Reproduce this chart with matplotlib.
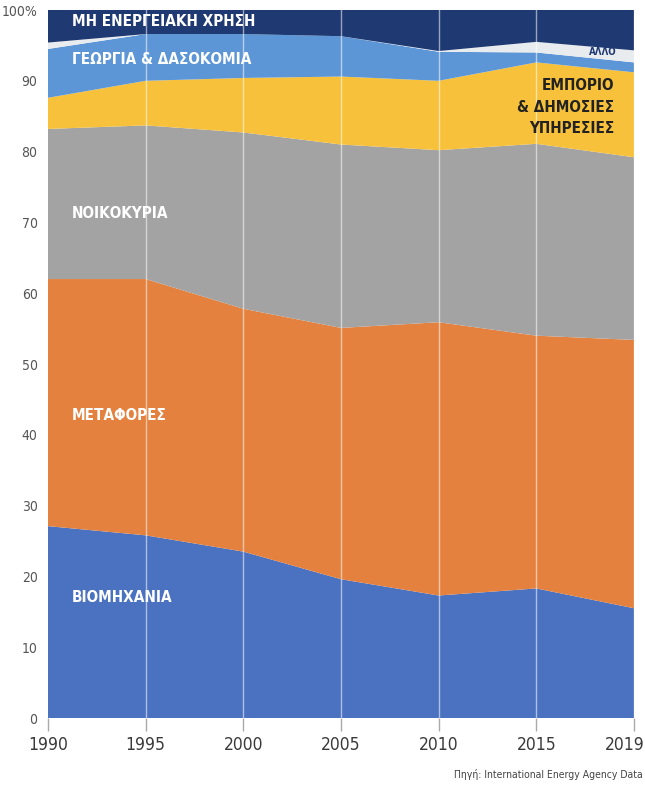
import matplotlib
matplotlib.use("Agg")
import matplotlib.pyplot as plt
import matplotlib.transforms as mtrans
import numpy as np

years = ["1990", "1995", "2000", "2005", "2010", "2015", "2019"]
industry = [27.1, 25.8, 23.5, 19.6, 17.3, 18.3, 15.5]
transport = [34.9, 36.2, 34.3, 35.5, 38.6, 35.7, 37.9]
households = [21.2, 21.7, 24.9, 25.9, 24.3, 27.1, 25.8]
commercial = [4.4, 6.3, 7.7, 9.6, 9.8, 11.5, 12.0]
agriculture = [6.9, 6.6, 6.2, 5.7, 4.1, 1.4, 1.4]
other = [0.9, 0.0, 0.0, 0.0, 0.1, 1.5, 1.7]
non_energy = [4.6, 3.4, 3.4, 3.7, 5.8, 4.5, 5.7]

y_ticks = [0, 10, 20, 30, 40, 50, 60, 70, 80, 90, 100]
y_labels = ["0", "10", "20", "30", "40", "50", "60", "70", "80", "90", "100%"]

colors = ["#4a72c0", "#e5813e", "#a3a3a3", "#f7c13b", "#5d96d6", "#e9ecef", "#1f3a72"]

cond = dict(family=["DejaVu Sans"], fontstretch="condensed")

fig = plt.figure(figsize=(6.45, 7.85), dpi=100)
ax = fig.add_axes([48/645, 1-718/785, (634-48)/645, (718-10)/785])

x = np.arange(len(years))
ax.stackplot(x, industry, transport, households, commercial, agriculture, other, non_energy,
             colors=colors, linewidth=0)

for xi in x[1:]:
    ax.axvline(xi, color="white", lw=1.0, alpha=0.55, zorder=3)

ax.set_xlim(0, len(years) - 1)
ax.set_ylim(0, 100)
for s in ax.spines.values():
    s.set_visible(False)

ax.set_xticks(x)
ax.set_xticklabels(years, fontsize=12.5, color="#3a3a3a", **cond)
ax.tick_params(axis="x", length=9, width=1, color="#aaaaaa", pad=4)
last = ax.get_xticklabels()[-1]
last.set_transform(last.get_transform() + mtrans.ScaledTranslation(-9/100, 0, fig.dpi_scale_trans))

ax.set_yticks(y_ticks)
ax.set_yticklabels(y_labels, fontsize=10, color="#555555", **cond)
ax.tick_params(axis="y", length=0, pad=7.5)

lab = dict(fontweight="bold", fontsize=11, transform=ax.transAxes, va="center", **cond)
def fx(px):
    return (px - 48) / (634 - 48)
def fy(py):
    return (718 - py) / (718 - 10)

ax.text(fx(72), fy(22), "ΜΗ ΕΝΕΡΓΕΙΑΚΗ ΧΡΗΣΗ", color="white", ha="left", **lab)
ax.text(fx(72), fy(60), "ΓΕΩΡΓΙΑ & ΔΑΣΟΚΟΜΙΑ", color="white", ha="left", **lab)
ax.text(fx(72), fy(213), "ΝΟΙΚΟΚΥΡΙΑ", color="white", ha="left", **lab)
ax.text(fx(72), fy(415), "ΜΕΤΑΦΟΡΕΣ", color="white", ha="left", **lab)
ax.text(fx(72), fy(598), "ΒΙΟΜΗΧΑΝΙΑ", color="white", ha="left", **lab)
ax.text(fx(614), fy(107), "ΕΜΠΟΡΙΟ\n& ΔΗΜΟΣΙΕΣ\nΥΠΗΡΕΣΙΕΣ", color="#222222", ha="right",
        linespacing=1.55, **lab)
ax.text(fx(617), fy(52), "ΑΛΛΟ", color="#1f3a72", ha="right", va="center",
        fontsize=7, fontweight="bold", transform=ax.transAxes, **cond)

fig.text(643/645, 1-775/785, "Πηγή: International Energy Agency Data", ha="right", va="center",
         fontsize=7.5, color="#444444", **cond)

fig.savefig("out.png", dpi=100)
